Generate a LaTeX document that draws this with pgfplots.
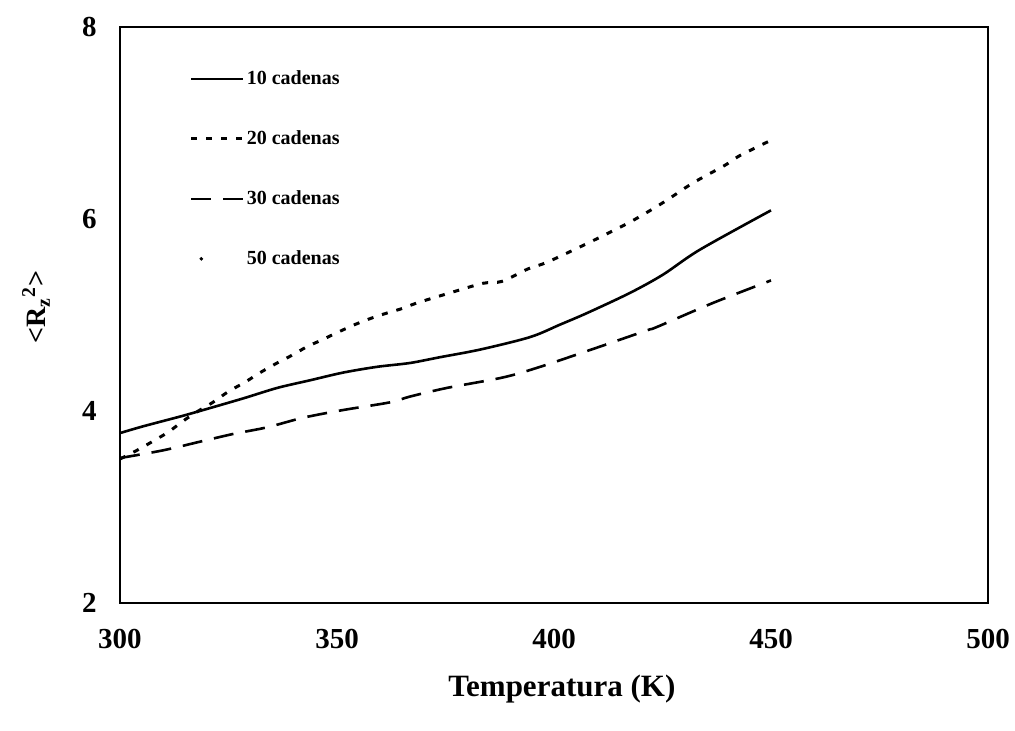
\documentclass[border=0pt]{standalone}
\usepackage{fontspec}
\setmainfont{Liberation Serif}
\usepackage{pgfplots}
\pgfplotsset{compat=1.18}
\usepackage{pgfplotstable}

% <R_z^2> against temperature for systems of 10, 20 and 30 chains
\pgfplotstableread{
T     R
300   3.77
305.3 3.84
314.5 3.95
318.4 4.00
328.3 4.13
336.2 4.24
343.8 4.32
351.4 4.40
359.2 4.46
366.8 4.50
373.7 4.56
383.0 4.64
394.5 4.77
401.4 4.90
407.6 5.02
417.5 5.23
425.1 5.42
433.6 5.68
450   6.09
}\diezcadenas

\pgfplotstableread{
T     R
300   3.50
303.9 3.59
307.4 3.68
311.1 3.78
315.0 3.91
318.4 4.01
321.4 4.09
324.9 4.20
328.8 4.30
332.3 4.40
336.2 4.50
339.6 4.58
343.1 4.67
346.5 4.74
350.2 4.82
354.1 4.90
358.1 4.97
361.5 5.02
365.2 5.07
368.4 5.125
376.0 5.23
383.6 5.33
388.0 5.35
394.0 5.48
397.9 5.54
403.7 5.66
410.6 5.81
418.0 5.98
425.1 6.17
432.0 6.375
439.4 6.56
442.8 6.66
450   6.82
}\veintecadenas

\pgfplotstableread{
T     R
300   3.51
309.9 3.59
318.4 3.68
326.0 3.76
333.9 3.83
342.2 3.93
351.4 4.01
362.2 4.09
366.8 4.15
375.3 4.24
388.3 4.35
396.8 4.46
409.9 4.66
421.4 4.84
423.7 4.875
436.6 5.125
450   5.36
}\treintacadenas

\begin{document}
\begin{tikzpicture}
\useasboundingbox (-60pt,-64pt) rectangle (447.5pt,301.5pt);
\begin{axis}[
  at={(0,0)}, anchor=south west,
  scale only axis, width=434pt, height=288pt,
  xmin=300, xmax=500, ymin=2, ymax=8,
  xtick={300,350,...,500}, ytick={2,4,6,8},
  major tick length=0pt, minor tick length=0pt,
  axis line style={line width=1pt},
  /pgf/number format/assume math mode=true,
  tick label style={font=\bfseries\fontsize{14.5}{16}\selectfont, inner sep=0pt},
  xticklabel style={yshift=-13pt},
  yticklabel style={xshift=-11.5pt},
  xlabel={Temperatura (K)},
  xlabel style={font=\bfseries\fontsize{15.5}{18}\selectfont, at={(axis description cs:0.509,0)}, anchor=north, inner sep=0pt, yshift=-36pt},
  ylabel={<R\textsubscript{z}\textsuperscript{2}>},
  ylabel style={font=\bfseries\fontsize{14}{16}\selectfont, at={(axis description cs:-0.0968,0.514)}, anchor=center, inner sep=0pt},
  legend image code/.code={\draw[#1] (0pt,0pt) -- (26pt,0pt);},
  legend cell align=left,
  legend style={draw=none, fill=none, inner sep=0pt,
    at={(axis description cs:0.08,0.928)}, anchor=north west,
    font=\bfseries\fontsize{10}{12}\selectfont, row sep=20pt,
    nodes={inner sep=1pt, text height=7pt, text depth=1pt}},
]
\addplot[black, line width=1.3pt, smooth] table[x=T, y=R] {\diezcadenas};
\addlegendentry{10 cadenas}
\addplot[black, line width=1.5pt, dash pattern=on 3pt off 4.5pt, smooth] table[x=T, y=R] {\veintecadenas};
\addlegendentry{20 cadenas}
\addplot[black, line width=1.3pt, dash pattern=on 10pt off 6pt, smooth] table[x=T, y=R] {\treintacadenas};
\addlegendentry{30 cadenas}
\addlegendimage{legend image code/.code={\fill[black] (5pt,0pt) circle (0.7pt);}}
\addlegendentry{50 cadenas}
\end{axis}
\end{tikzpicture}
\end{document}
